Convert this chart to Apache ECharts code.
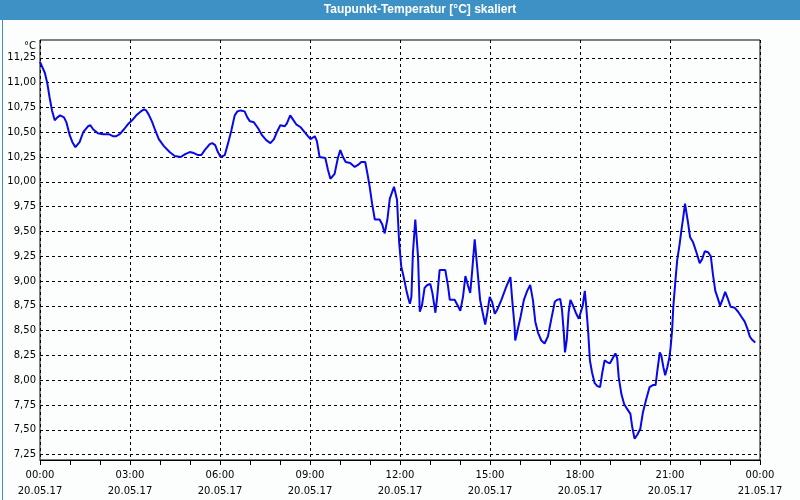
<!DOCTYPE html>
<html>
<head>
<meta charset="utf-8">
<script src="https://cdn.jsdelivr.net/npm/echarts@6/dist/echarts.min.js"></script>
<style>
html,body{margin:0;padding:0;background:#fcfefe;}
#chart{width:800px;height:500px;}
</style>
</head>
<body>
<div id="chart"></div>
<script>
// Zeit in Stunden ab 20.05.17 00:00
const hours = [0,0.16,0.24,0.32,0.40,0.49,0.58,0.67,0.80,0.88,0.99,1.08,1.18,1.32,1.44,1.60,1.68,1.77,1.93,2.10,2.29,2.43,2.54,2.66,2.80,2.93,3.07,3.21,3.36,3.47,3.54,3.62,3.73,3.84,3.96,4.13,4.32,4.49,4.69,4.84,4.99,5.13,5.27,5.38,5.49,5.66,5.74,5.84,5.93,6.02,6.16,6.27,6.38,6.49,6.58,6.69,6.82,6.91,7.00,7.13,7.27,7.40,7.54,7.68,7.80,7.91,8.01,8.16,8.23,8.34,8.43,8.54,8.69,8.82,8.93,9.02,9.16,9.23,9.32,9.51,9.60,9.68,9.82,9.93,10.01,10.10,10.19,10.34,10.49,10.60,10.71,10.84,10.91,10.99,11.07,11.16,11.32,11.41,11.49,11.58,11.66,11.80,11.84,11.90,11.97,12.04,12.13,12.21,12.29,12.33,12.38,12.43,12.51,12.54,12.60,12.66,12.73,12.82,12.91,13.01,13.08,13.18,13.24,13.32,13.43,13.51,13.60,13.66,13.82,13.91,14.01,14.10,14.18,14.27,14.34,14.40,14.49,14.53,14.60,14.67,14.77,14.84,14.91,14.99,15.07,15.16,15.24,15.38,15.54,15.68,15.74,15.82,15.84,15.91,16.02,16.13,16.24,16.34,16.43,16.51,16.60,16.71,16.82,16.93,17.04,17.16,17.24,17.34,17.40,17.46,17.50,17.56,17.62,17.68,17.77,17.86,17.96,18.02,18.09,18.16,18.20,18.27,18.33,18.40,18.49,18.58,18.67,18.74,18.82,18.91,19.00,19.09,19.18,19.24,19.29,19.38,19.47,19.57,19.68,19.74,19.82,19.91,20.01,20.10,20.21,20.32,20.43,20.52,20.58,20.66,20.71,20.78,20.84,20.91,20.98,21.02,21.07,21.11,21.18,21.24,21.32,21.38,21.44,21.50,21.54,21.60,21.67,21.77,21.88,21.99,22.07,22.16,22.27,22.36,22.43,22.51,22.60,22.67,22.76,22.84,22.93,23.02,23.16,23.27,23.38,23.49,23.58,23.66,23.73,23.84];
const dewPoint = [11.21,11.10,11.00,10.85,10.72,10.62,10.65,10.67,10.65,10.60,10.47,10.40,10.35,10.40,10.50,10.56,10.57,10.53,10.49,10.48,10.48,10.46,10.46,10.48,10.53,10.58,10.62,10.67,10.71,10.73,10.72,10.68,10.61,10.52,10.43,10.36,10.30,10.26,10.25,10.28,10.30,10.29,10.27,10.27,10.32,10.38,10.39,10.37,10.30,10.25,10.27,10.39,10.52,10.67,10.71,10.72,10.71,10.65,10.61,10.60,10.54,10.47,10.42,10.39,10.43,10.51,10.57,10.56,10.59,10.67,10.63,10.58,10.55,10.50,10.46,10.43,10.46,10.41,10.25,10.24,10.12,10.03,10.08,10.24,10.32,10.25,10.20,10.19,10.15,10.17,10.20,10.20,10.09,9.95,9.78,9.62,9.62,9.57,9.48,9.62,9.83,9.95,9.95,9.82,9.40,9.15,9.03,8.91,8.81,8.77,8.84,9.28,9.62,9.62,9.25,8.69,8.75,8.93,8.96,8.97,8.88,8.68,8.84,9.11,9.11,9.11,8.95,8.81,8.81,8.76,8.70,8.84,9.05,8.95,8.88,9.08,9.42,9.40,9.05,8.81,8.66,8.56,8.68,8.84,8.79,8.67,8.71,8.81,8.94,9.04,8.81,8.54,8.40,8.49,8.64,8.81,8.90,8.96,8.81,8.59,8.48,8.40,8.37,8.44,8.61,8.79,8.81,8.82,8.71,8.48,8.28,8.41,8.68,8.81,8.75,8.68,8.62,8.61,8.75,8.90,8.77,8.50,8.20,8.08,7.97,7.94,7.93,8.07,8.20,8.18,8.17,8.22,8.27,8.22,8.03,7.86,7.76,7.71,7.66,7.53,7.41,7.45,7.51,7.68,7.81,7.93,7.95,7.95,8.10,8.28,8.25,8.13,8.05,8.13,8.23,8.33,8.50,8.74,9.00,9.21,9.37,9.51,9.64,9.78,9.76,9.59,9.44,9.39,9.29,9.18,9.22,9.30,9.29,9.25,9.07,8.90,8.82,8.75,8.82,8.89,8.82,8.74,8.73,8.69,8.64,8.59,8.52,8.44,8.41,8.38];
const yTicks = [7.25,7.50,7.75,8.00,8.25,8.50,8.75,9.00,9.25,9.50,9.75,10.00,10.25,10.50,10.75,11.00,11.25];
const timeLabels = ['00:00','03:00','06:00','09:00','12:00','15:00','18:00','21:00','00:00'];
const dateLabels = ['20.05.17','20.05.17','20.05.17','20.05.17','20.05.17','20.05.17','20.05.17','20.05.17','21.05.17'];
const titleText = 'Taupunkt-Temperatur [°C] skaliert';
const unitText = '°C';

const chart = echarts.init(document.getElementById('chart'), null, {renderer:'canvas'});
const font = 'DejaVu Sans';
const option = {
  backgroundColor: '#fcfefe',
  animation: false,
  graphic: [
    {type:'rect', left:0, top:0, shape:{width:800, height:20}, style:{fill:'#3e91c5'}, silent:true, z:0},
    {type:'rect', left:0, top:0, shape:{width:799, height:499}, style:{fill:'none', stroke:'#3e91c5', lineWidth:1}, silent:true, z:0},
    {type:'text', x:420, y:10, style:{text:titleText, fill:'#ffffff', font:'bold 12px "Liberation Sans Narrow", "Liberation Sans", sans-serif', textAlign:'center', textVerticalAlign:'middle'}, silent:true, z:1}
  ],
  grid: {left:40, right:40, top:40, bottom:40, show:true, borderColor:'#000', borderWidth:1, backgroundColor:'transparent'},
  xAxis: {
    type:'value', min:0, max:24, interval:3,
    axisLine:{show:true, lineStyle:{color:'#000', width:1}},
    axisTick:{show:true, length:5, lineStyle:{color:'#000'}},
    minorTick:{show:true, splitNumber:3, length:5, lineStyle:{color:'#000'}},
    minorSplitLine:{show:false},
    splitLine:{show:true, lineStyle:{color:'#000', type:[3,3], width:1}},
    axisLabel:{
      margin:7, color:'#000', fontFamily:font, fontSize:10, lineHeight:16,
      formatter:(v, i)=> timeLabels[i] + '\n' + dateLabels[i]
    }
  },
  yAxis: {
    type:'value', min:7.195, max:11.43,
    name: unitText, nameLocation:'end', nameGap:-6,
    nameTextStyle:{color:'#000', fontFamily:font, fontSize:10, align:'right', verticalAlign:'middle', padding:[0,4,0,0]},
    axisLine:{show:false},
    axisTick:{show:false, customValues: yTicks},
    splitLine:{show:true, lineStyle:{color:'#000', type:[3,3], width:1}},
    axisLabel:{
      customValues: yTicks, margin:4, color:'#000', fontFamily:font, fontSize:10,
      formatter:(v)=> v.toFixed(2).replace('.', ',')
    }
  },
  series: [{
    type:'line',
    data: hours.map((h,i)=>[h, dewPoint[i]]),
    showSymbol:false, symbol:'none',
    lineStyle:{color:'#0808e8', width:2},
    clip:true, z:3
  }]
};
chart.setOption(option);
</script>
</body>
</html>
